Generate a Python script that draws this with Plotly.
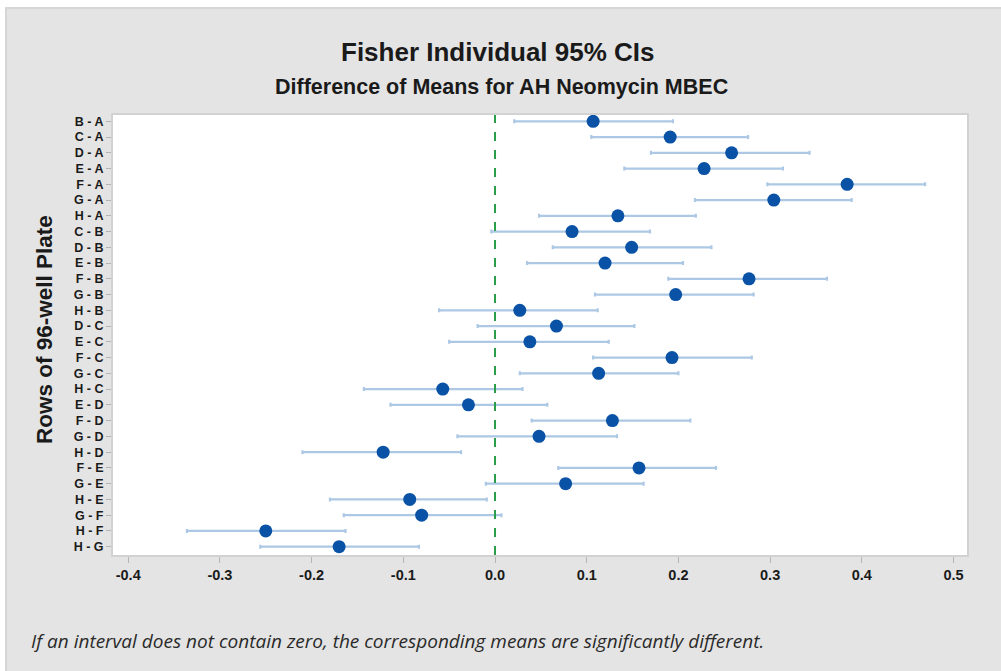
import plotly.graph_objects as go

# Pairwise row comparisons (Fisher LSD, 95% individual CIs)
pairs = ["B - A", "C - A", "D - A", "E - A", "F - A", "G - A", "H - A",
         "C - B", "D - B", "E - B", "F - B", "G - B", "H - B",
         "D - C", "E - C", "F - C", "G - C", "H - C",
         "E - D", "F - D", "G - D", "H - D",
         "F - E", "G - E", "H - E",
         "G - F", "H - F",
         "H - G"]

diff = [0.107, 0.191, 0.258, 0.228, 0.384, 0.304, 0.134,
        0.084, 0.149, 0.120, 0.277, 0.197, 0.027,
        0.067, 0.038, 0.193, 0.113, -0.057,
        -0.029, 0.128, 0.048, -0.122,
        0.157, 0.077, -0.093,
        -0.080, -0.250,
        -0.170]

lower = [0.021, 0.105, 0.170, 0.141, 0.297, 0.218, 0.048,
         -0.004, 0.063, 0.035, 0.189, 0.109, -0.061,
         -0.019, -0.050, 0.107, 0.027, -0.143,
         -0.114, 0.040, -0.041, -0.210,
         0.069, -0.010, -0.180,
         -0.165, -0.336,
         -0.256]

upper = [0.194, 0.276, 0.343, 0.314, 0.469, 0.389, 0.219,
         0.169, 0.236, 0.205, 0.362, 0.282, 0.112,
         0.152, 0.124, 0.280, 0.200, 0.030,
         0.057, 0.213, 0.133, -0.037,
         0.241, 0.162, -0.009,
         0.007, -0.163,
         -0.083]

x_ticks = [-0.4, -0.3, -0.2, -0.1, 0.0, 0.1, 0.2, 0.3, 0.4, 0.5]

err_plus = [u - d for u, d in zip(upper, diff)]
err_minus = [d - l for d, l in zip(diff, lower)]

fig = go.Figure()
fig.add_trace(go.Scatter(
    x=diff, y=list(range(len(pairs))), mode="markers",
    marker=dict(color="#0a52a5", size=13),
    error_x=dict(type="data", symmetric=False, array=err_plus,
                 arrayminus=err_minus, color="#adc8e4", thickness=2.2, width=2),
    showlegend=False, hoverinfo="x+text", text=pairs,
))

W, H = 1001, 671
L, R, T, B = 113, 967, 115, 555
def px(xp):
    return (xp - L) / (R - L)
def py(yp):
    return (B - yp) / (B - T)

shapes = [
    # zero reference line
    dict(type="line", xref="x", yref="paper", x0=0, x1=0, y0=0, y1=1,
         line=dict(color="#2a9d48", width=2, dash="dash"), layer="above"),
    # white margin around the grey panel
    dict(type="rect", xref="paper", yref="paper", x0=px(-5), x1=px(5),
         y0=py(W), y1=py(-5), fillcolor="white", line=dict(width=0), layer="above"),
    dict(type="rect", xref="paper", yref="paper", x0=px(-5), x1=px(W + 5),
         y0=py(7), y1=py(-5), fillcolor="white", line=dict(width=0), layer="above"),
    # panel edge
    dict(type="line", xref="paper", yref="paper", x0=px(6), x1=px(6),
         y0=py(H + 5), y1=py(8), line=dict(color="#d6d6d6", width=2), layer="above"),
    dict(type="line", xref="paper", yref="paper", x0=px(5), x1=px(W + 5),
         y0=py(8), y1=py(8), line=dict(color="#d6d6d6", width=2), layer="above"),
]

annotations = [
    dict(text="<b>Fisher Individual 95% CIs</b>", xref="paper", yref="paper",
         x=px(498), y=py(52), showarrow=False, xanchor="center", yanchor="middle",
         font=dict(family="Liberation Sans", size=26, color="#1a1a1a")),
    dict(text="<b>Difference of Means for AH Neomycin MBEC</b>", xref="paper", yref="paper",
         x=px(501), y=py(87), showarrow=False, xanchor="center", yanchor="middle",
         font=dict(family="Liberation Sans", size=21.5, color="#1a1a1a")),
    dict(text="<b>Rows of 96-well Plate</b>", xref="paper", yref="paper",
         x=px(44), y=py(330), showarrow=False, textangle=-90,
         xanchor="center", yanchor="middle",
         font=dict(family="Liberation Sans", size=22.5, color="#1a1a1a")),
    dict(text="<i>If an interval does not contain zero, the corresponding means are significantly different.</i>",
         xref="paper", yref="paper", x=px(29), y=py(641), showarrow=False,
         xanchor="left", yanchor="middle",
         font=dict(family="Open Sans", size=19, color="#2a2a2a")),
]

fig.update_layout(
    width=W, height=H,
    margin=dict(l=L, r=W - R, t=T, b=H - B, pad=0),
    paper_bgcolor="#e4e4e4", plot_bgcolor="white",
    shapes=shapes, annotations=annotations,
    xaxis=dict(range=[-0.4166, 0.5147], tickvals=x_ticks,
               ticktext=["<b>%.1f</b>" % v for v in x_ticks],
               ticks="outside", ticklen=6, tickcolor="#b5b5b5", tickwidth=1,
               showgrid=False, zeroline=False,
               showline=True, linecolor="#d2d2d2", linewidth=2, mirror=True,
               tickfont=dict(family="Liberation Sans", size=14.5, color="#1a1a1a")),
    yaxis=dict(range=[27.53, -0.4], tickvals=list(range(len(pairs))),
               ticktext=["<b>%s</b>" % p for p in pairs],
               ticks="outside", ticklen=5, tickcolor="#b5b5b5", tickwidth=1,
               showgrid=False, zeroline=False,
               showline=True, linecolor="#d2d2d2", linewidth=2, mirror=True,
               tickfont=dict(family="Liberation Sans", size=12.5, color="#1a1a1a")),
)

fig.write_html("out.html")
